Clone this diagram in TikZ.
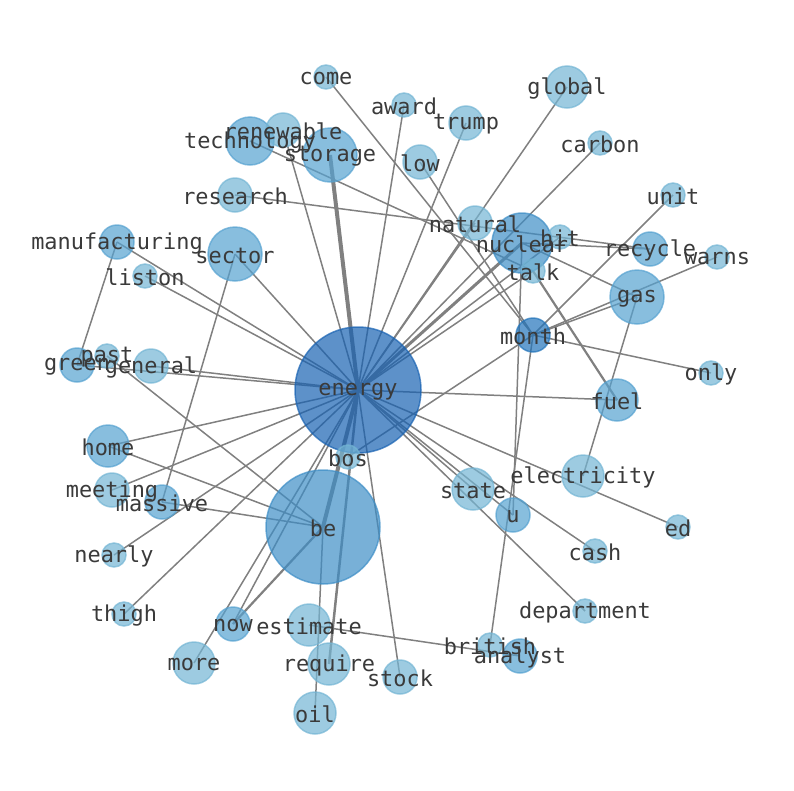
\documentclass[tikz,border=0pt]{standalone}
\usepackage{fontspec}
\newfontfamily\labelfont{DejaVu Sans Mono}
\usetikzlibrary{backgrounds}
\definecolor{paleblue}{RGB}{116,181,212}
\definecolor{midblue}{RGB}{86,162,208}
\definecolor{deepblue}{RGB}{62,142,198}
\definecolor{monthblue}{RGB}{34,116,186}
\definecolor{hubblue}{RGB}{24,98,178}
\definecolor{edgegrey}{RGB}{128,128,128}
\definecolor{labelgrey}{RGB}{58,58,58}

\begin{document}
\begin{tikzpicture}[x=1pt,y=-1pt,
    nd/.style={circle,inner sep=0pt,line width=1.5pt,fill opacity=0.7,draw opacity=0.7},
    pale/.style={draw=paleblue,fill=paleblue},
    mid/.style={draw=midblue,fill=midblue},
    deep/.style={draw=deepblue,fill=deepblue},
    mon/.style={draw=monthblue,fill=monthblue},
    hub/.style={draw=hubblue,fill=hubblue},
    ln/.style={draw=edgegrey,line width=1.5pt},
    lbl/.style={font=\labelfont\fontsize{21.9}{24}\selectfont,text=labelgrey,inner sep=0pt,yshift=-1.5pt}]
  \useasboundingbox (0,0) rectangle (794,790);

  % nodes
  \node[nd,hub,minimum size=126pt](energy) at (358,390) {};
  \node[nd,deep,minimum size=114pt](be) at (323,527) {};
  \node[nd,deep,minimum size=60pt](nuclear) at (522,243) {};
  \node[nd,mon,minimum size=34pt](month) at (533,335) {};
  \node[nd,mid,minimum size=54pt](gas) at (637,297) {};
  \node[nd,mid,minimum size=54pt](storage) at (330,155) {};
  \node[nd,mid,minimum size=54pt](sector) at (235,254) {};
  \node[nd,mid,minimum size=48pt](technology) at (250,141) {};
  \node[nd,pale,minimum size=34pt](renewable) at (283,130) {};
  \node[nd,pale,minimum size=42pt](global) at (567,87) {};
  \node[nd,pale,minimum size=34pt](trump) at (466,123) {};
  \node[nd,pale,minimum size=24pt](award) at (404,105) {};
  \node[nd,pale,minimum size=24pt](come) at (326,77) {};
  \node[nd,pale,minimum size=34pt](low) at (420,162) {};
  \node[nd,pale,minimum size=24pt](carbon) at (600,143) {};
  \node[nd,pale,minimum size=34pt](research) at (235,195) {};
  \node[nd,pale,minimum size=34pt](natural) at (475,223) {};
  \node[nd,pale,minimum size=24pt](hit) at (560,237) {};
  \node[nd,pale,minimum size=24pt](talk) at (533,271) {};
  \node[nd,mid,minimum size=34pt](recycle) at (650,249) {};
  \node[nd,pale,minimum size=24pt](warns) at (717,257) {};
  \node[nd,pale,minimum size=24pt](unit) at (673,195) {};
  \node[nd,mid,minimum size=34pt](manufacturing) at (117,242) {};
  \node[nd,pale,minimum size=24pt](liston) at (145,276) {};
  \node[nd,mid,minimum size=34pt](green) at (77,365) {};
  \node[nd,pale,minimum size=24pt](past) at (107,356) {};
  \node[nd,pale,minimum size=34pt](general) at (151,366) {};
  \node[nd,pale,minimum size=24pt](only) at (711,373) {};
  \node[nd,mid,minimum size=42pt](fuel) at (617,400) {};
  \node[nd,mid,minimum size=42pt](home) at (108,446) {};
  \node[nd,pale,minimum size=34pt](meeting) at (112,490) {};
  \node[nd,mid,minimum size=34pt](massive) at (162,502) {};
  \node[nd,pale,minimum size=24pt](bos) at (348,457) {};
  \node[nd,pale,minimum size=42pt](electricity) at (583,476) {};
  \node[nd,pale,minimum size=42pt](state) at (473,489) {};
  \node[nd,mid,minimum size=34pt](u) at (513,515) {};
  \node[nd,pale,minimum size=24pt](ed) at (678,527) {};
  \node[nd,pale,minimum size=24pt](cash) at (595,551) {};
  \node[nd,pale,minimum size=24pt](nearly) at (114,555) {};
  \node[nd,pale,minimum size=24pt](thigh) at (124,614) {};
  \node[nd,mid,minimum size=34pt](now) at (233,624) {};
  \node[nd,pale,minimum size=42pt](estimate) at (309,625) {};
  \node[nd,pale,minimum size=24pt](department) at (585,611) {};
  \node[nd,pale,minimum size=24pt](british) at (490,645) {};
  \node[nd,mid,minimum size=34pt](analyst) at (520,656) {};
  \node[nd,pale,minimum size=42pt](require) at (329,664) {};
  \node[nd,pale,minimum size=34pt](stock) at (400,677) {};
  \node[nd,pale,minimum size=42pt](more) at (194,663) {};
  \node[nd,pale,minimum size=42pt](oil) at (315,713) {};

  % edges
  \begin{scope}[on background layer]
    \draw[ln,line width=4pt] (energy.center) -- (storage.center);
    \draw[ln,line width=4pt] (energy.center) -- (be.center);
    \draw[ln,line width=3pt] (energy.center) -- (nuclear.center);
    \draw[ln,line width=2.5pt] (energy.center) -- (require.center);
    \draw[ln] (energy.center) -- (renewable.center);
    \draw[ln] (energy.center) -- (sector.center);
    \draw[ln] (energy.center) -- (manufacturing.center);
    \draw[ln] (energy.center) -- (liston.center);
    \draw[ln] (energy.center) -- (general.center);
    \draw[ln] (energy.center) -- (green.center);
    \draw[ln] (energy.center) -- (home.center);
    \draw[ln] (energy.center) -- (meeting.center);
    \draw[ln] (energy.center) -- (nearly.center);
    \draw[ln] (energy.center) -- (thigh.center);
    \draw[ln] (energy.center) -- (now.center);
    \draw[ln] (energy.center) -- (more.center);
    \draw[ln] (energy.center) -- (stock.center);
    \draw[ln] (energy.center) -- (fuel.center);
    \draw[ln] (energy.center) -- (ed.center);
    \draw[ln] (energy.center) -- (state.center);
    \draw[ln] (energy.center) -- (u.center);
    \draw[ln] (energy.center) -- (cash.center);
    \draw[ln] (energy.center) -- (department.center);
    \draw[ln] (energy.center) -- (natural.center);
    \draw[ln] (energy.center) -- (carbon.center);
    \draw[ln] (energy.center) -- (global.center);
    \draw[ln] (energy.center) -- (trump.center);
    \draw[ln] (energy.center) -- (award.center);
    \draw[ln] (energy.center) -- (hit.center);
    \draw[ln] (energy.center) -- (talk.center);
    \draw[ln] (manufacturing.center) -- (green.center);
    \draw[ln] (sector.center) -- (massive.center);
    \draw[ln] (past.center) -- (be.center);
    \draw[ln] (home.center) -- (be.center);
    \draw[ln] (massive.center) -- (be.center);
    \draw[ln,line width=2.2pt] (now.center) -- (be.center);
    \draw[ln] (oil.center) -- (be.center);
    \draw[ln] (estimate.center) -- (analyst.center);
    \draw[ln] (british.center) -- (month.center);
    \draw[ln] (nuclear.center) -- (u.center);
    \draw[ln] (month.center) -- (bos.center);
    \draw[ln] (month.center) -- (gas.center);
    \draw[ln] (month.center) -- (warns.center);
    \draw[ln] (month.center) -- (unit.center);
    \draw[ln] (month.center) -- (only.center);
    \draw[ln] (come.center) -- (month.center);
    \draw[ln] (low.center) -- (month.center);
    \draw[ln] (nuclear.center) -- (gas.center);
    \draw[ln] (nuclear.center) -- (recycle.center);
    \draw[ln] (research.center) -- (recycle.center);
    \draw[ln] (technology.center) -- (talk.center);
    \draw[ln,line width=2.2pt] (talk.center) -- (fuel.center);
    \draw[ln] (electricity.center) -- (gas.center);
  \end{scope}

  % labels
  \foreach \w in {energy,be,nuclear,month,gas,storage,sector,technology,renewable,
      global,trump,award,come,low,carbon,research,natural,hit,talk,recycle,warns,
      unit,manufacturing,liston,green,past,general,only,fuel,home,meeting,massive,
      bos,electricity,state,u,ed,cash,nearly,thigh,now,estimate,department,british,
      analyst,require,stock,more,oil}
    \node[lbl](t-\w) at (\w.center) {\w};
\end{tikzpicture}
\end{document}
